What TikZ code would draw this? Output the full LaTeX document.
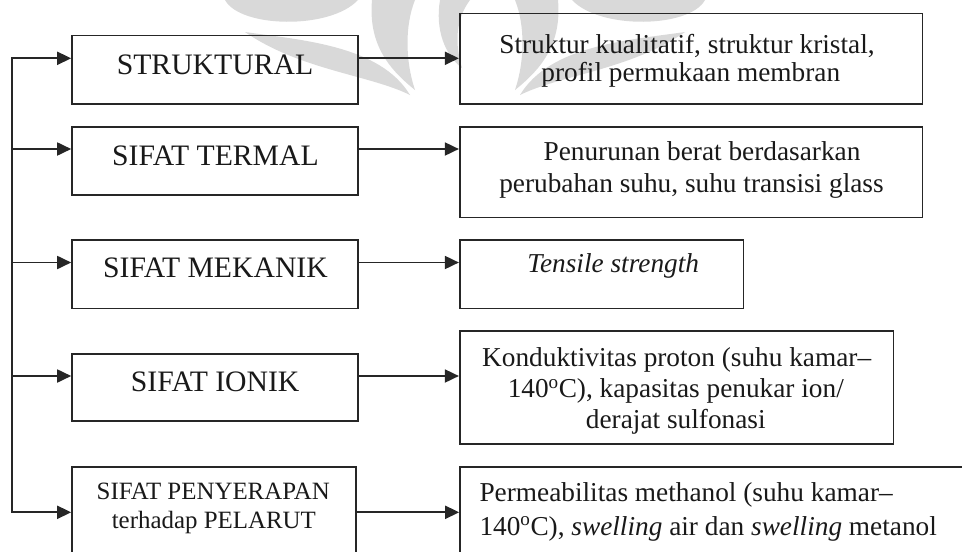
\documentclass[tikz,border=0pt]{standalone}
\usepackage{fontspec}
\setmainfont{Liberation Serif}
\usetikzlibrary{arrows.meta}
\begin{document}
\begin{tikzpicture}[x=1pt,y=-1pt,
  box/.style={draw=black!85, line width=1.6pt, inner sep=0pt},
  conn/.style={draw=black!85, line width=1.8pt},
  arr/.style={conn, -{Triangle[length=14pt,width=13pt]}},
  ltxt/.style={anchor=base, inner sep=0pt, text=black!90, font=\fontsize{29.7}{33}\selectfont},
  stxt/.style={anchor=base, inner sep=0pt, text=black!90, font=\fontsize{24.9}{28}\selectfont},
  rtxt/.style={anchor=base, inner sep=0pt, text=black!90, font=\fontsize{27.3}{31}\selectfont},
  wm/.style={fill=black!15, draw=none}
]
\useasboundingbox (0,0) rectangle (962,552);
\clip (0,0) rectangle (962,552);

% watermark (faint logo)
\path[wm] (225,0) .. controls (240,28) and (330,30) .. (358,0) -- cycle;
\path[wm] (245,32) .. controls (300,40) and (380,45) .. (410,95) .. controls (370,75) and (300,70) .. (245,32) -- cycle;
\path[wm] (372,0) .. controls (368,45) and (390,70) .. (415,90) .. controls (405,60) and (405,25) .. (415,0) -- cycle;
\path[wm] (440,0) .. controls (435,30) and (445,55) .. (462,68) .. controls (455,45) and (455,20) .. (470,0) -- cycle;
\path[wm] (705,0) .. controls (690,28) and (600,30) .. (572,0) -- cycle;
\path[wm] (685,32) .. controls (630,40) and (550,45) .. (520,95) .. controls (560,75) and (630,70) .. (685,32) -- cycle;
\path[wm] (558,0) .. controls (562,45) and (540,70) .. (515,90) .. controls (525,60) and (525,25) .. (515,0) -- cycle;

% left boxes
\node[box, minimum width=286pt, minimum height=68.4pt] (b1) at (215,69.5) {};
\node[box, minimum width=286pt, minimum height=68.3pt] (b2) at (215,160.85) {};
\node[box, minimum width=286pt, minimum height=68.3pt] (b3) at (215,274.15) {};
\node[box, minimum width=286pt, minimum height=67pt] (b4) at (215,387.2) {};
\node[box, minimum width=283.7pt, minimum height=113pt] (b5) at (213.85,523.5) {};

% right boxes
\node[box, minimum width=462.6pt, minimum height=90.4pt] (r1) at (691,58.5) {};
\node[box, minimum width=462.6pt, minimum height=90.6pt] (r2) at (691,172) {};
\node[box, minimum width=283.6pt, minimum height=68.3pt] (r3) at (601.5,274.15) {};
\node[box, minimum width=433.6pt, minimum height=113pt] (r4) at (676.5,387.5) {};
\node[box, minimum width=530pt, minimum height=108pt] (r5) at (725,521) {};

% left texts
\node[ltxt] (t1) at (215,74) {STRUKTURAL};
\node[ltxt] (t2) at (215.5,165) {SIFAT TERMAL};
\node[ltxt] (t3) at (215.5,277.3) {SIFAT MEKANIK};
\node[ltxt] (t4) at (215.2,391.7) {SIFAT IONIK};
\node[stxt] (t5a) at (213.3,499.3) {SIFAT PENYERAPAN};
\node[stxt] (t5b) at (213.8,528.3) {terhadap PELARUT};

% right texts
\node[rtxt] (u1a) at (687,53.3) {Struktur kualitatif, struktur kristal,};
\node[rtxt] (u1b) at (690.8,81) {profil permukaan membran};
\node[rtxt] (u2a) at (702,160) {Penurunan berat berdasarkan};
\node[rtxt] (u2b) at (691.5,192.7) {perubahan suhu, suhu transisi glass};
\node[rtxt] (u3) at (613.2,272.3) {\itshape Tensile strength};
\node[rtxt] (u4a) at (676.7,366) {Konduktivitas proton (suhu kamar–};
\node[rtxt] (u4b) at (675.8,397.3) {140\textsuperscript{o}C), kapasitas penukar ion/};
\node[rtxt] (u4c) at (675.8,428.3) {derajat sulfonasi};
\node[rtxt, anchor=base west] (u5a) at (479.3,501.7) {Permeabilitas methanol (suhu kamar–};
\node[rtxt, anchor=base west] (u5b) at (479.3,535) {140\textsuperscript{o}C), \textit{swelling} air dan \textit{swelling} metanol};

% spine
\coordinate (s1) at (12.3,58.3);
\coordinate (s2) at (12.3,149);
\coordinate (s3) at (12.3,262.5);
\coordinate (s4) at (12.3,376);
\coordinate (s5) at (12.3,512.3);
\draw[conn, line cap=rect] (s1) -- (s5);

% arrows from spine to left boxes
\draw[arr] (s1) -- (b1.west |- s1);
\draw[arr] (s2) -- (b2.west |- s2);
\draw[arr] (s3) -- (b3.west |- s3);
\draw[arr] (s4) -- (b4.west |- s4);
\draw[arr] (s5) -- (b5.west |- s5);

% arrows from left boxes to right boxes
\draw[arr] (b1.east |- s1) -- (r1.west |- s1);
\draw[arr] (b2.east |- s2) -- (r2.west |- s2);
\draw[arr] (b3.east |- s3) -- (r3.west |- s3);
\draw[arr] (b4.east |- s4) -- (r4.west |- s4);
\draw[arr] (b5.east |- s5) -- (r5.west |- s5);
\end{tikzpicture}
\end{document}
